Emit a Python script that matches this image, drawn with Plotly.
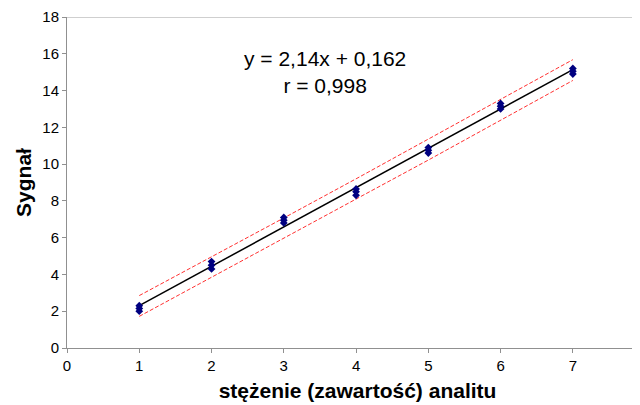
import plotly.graph_objects as go

# concentration levels and replicate signals
x_levels = [1, 2, 3, 4, 5, 6, 7]
rep1 = [2.0, 4.3, 6.8, 8.3, 10.6, 13.0, 14.9]
rep2 = [2.15, 4.5, 6.95, 8.5, 10.75, 13.15, 15.05]
rep3 = [2.3, 4.7, 7.1, 8.65, 10.9, 13.3, 15.2]

slope = 2.14
intercept = 0.162
fit_x = [1, 7]
upper_band = [2.85, 4.95, 7.07, 9.2, 11.35, 13.5, 15.68]
lower_band = [1.72, 3.86, 5.98, 8.1, 10.22, 12.38, 14.55]

x_ticks = [0, 1, 2, 3, 4, 5, 6, 7]
y_ticks = [0, 2, 4, 6, 8, 10, 12, 14, 16, 18]

fig = go.Figure()

# prediction bands
fig.add_trace(go.Scatter(x=x_levels, y=upper_band, mode="lines",
                         line=dict(color="#FF3030", width=1, dash="4px,2px"), hoverinfo="skip"))
fig.add_trace(go.Scatter(x=x_levels, y=lower_band, mode="lines",
                         line=dict(color="#FF3030", width=1, dash="4px,2px"), hoverinfo="skip"))

# regression line
fig.add_trace(go.Scatter(x=fit_x, y=[slope * v + intercept for v in fit_x], mode="lines",
                         line=dict(color="black", width=1.5)))

# replicate points
all_x = x_levels * 3
all_y = rep1 + rep2 + rep3
fig.add_trace(go.Scatter(x=all_x, y=all_y, mode="markers",
                         marker=dict(symbol="diamond", size=6, color="#000080")))

fig.add_annotation(x=0.444, y=0.915, xref="paper", yref="paper", yanchor="top",
                   text="y = 2,14x + 0,162<br>r = 0,998", showarrow=False,
                   font=dict(family="Liberation Sans, Arial", size=21, color="black"),
                   align="center")

# top border of plot area
fig.add_shape(type="line", xref="paper", yref="y", x0=0, x1=1, y0=18, y1=18,
              line=dict(color="#A0A0A0", width=1))

axis_font = dict(family="Liberation Sans, Arial", size=15, color="black")
title_font = dict(family="Liberation Sans, Arial", size=21, color="black")

fig.update_layout(
    width=640, height=405,
    margin=dict(l=59, r=0, t=9, b=65),
    paper_bgcolor="white", plot_bgcolor="white",
    showlegend=False,
    font=axis_font,
    xaxis=dict(range=[0, 8.04], tickvals=x_ticks, showgrid=False, zeroline=False,
               showline=True, linecolor="#909090", linewidth=1,
               ticks="outside", ticklen=4, tickcolor="#909090",
               tickfont=axis_font, automargin=False,
               title=dict(text="<b>stężenie (zawartość) analitu</b>", font=title_font, standoff=10)),
    yaxis=dict(range=[0, 18], tickvals=y_ticks, showgrid=False, zeroline=False,
               showline=True, linecolor="#909090", linewidth=1,
               ticks="outside", ticklen=4, tickcolor="#909090",
               tickfont=axis_font, automargin=False,
               title=dict(text="<b>Sygnał</b>", font=title_font, standoff=4)),
)

fig.write_html("out.html")
